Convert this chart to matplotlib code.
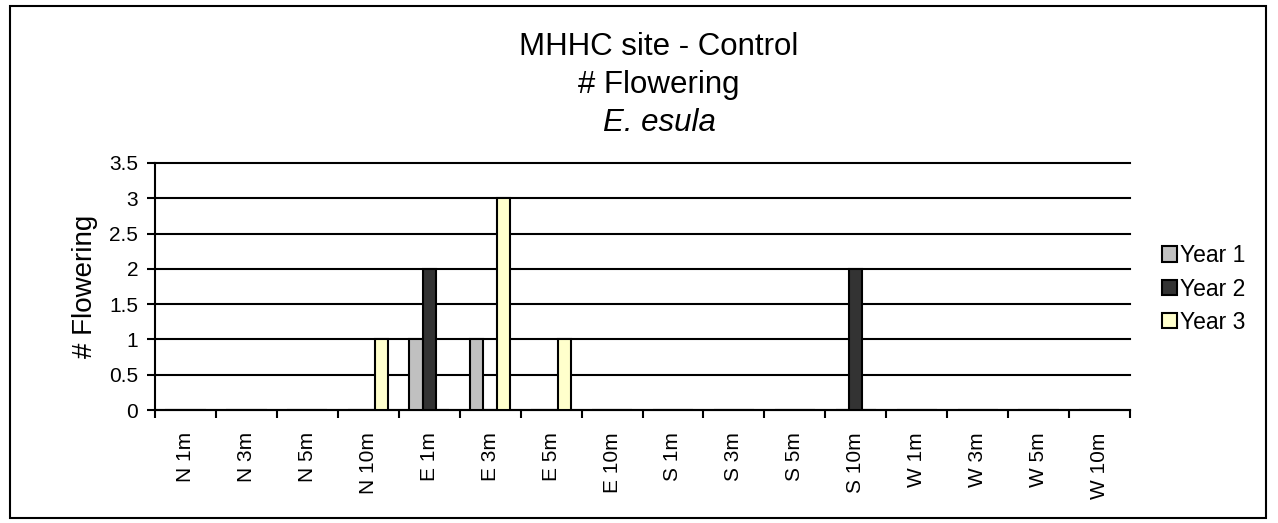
import matplotlib
matplotlib.use("Agg")
import matplotlib.pyplot as plt
import numpy as np
from matplotlib.patches import Rectangle

categories = ["N 1m", "N 3m", "N 5m", "N 10m", "E 1m", "E 3m", "E 5m", "E 10m",
              "S 1m", "S 3m", "S 5m", "S 10m", "W 1m", "W 3m", "W 5m", "W 10m"]
year1 = [0, 0, 0, 0, 1, 1, 0, 0, 0, 0, 0, 0, 0, 0, 0, 0]
year2 = [0, 0, 0, 0, 2, 0, 0, 0, 0, 0, 0, 2, 0, 0, 0, 0]
year3 = [0, 0, 0, 1, 0, 3, 1, 0, 0, 0, 0, 0, 0, 0, 0, 0]
series_names = ["Year 1", "Year 2", "Year 3"]
colors = ["#C0C0C0", "#333333", "#FFFFCC"]
yticks = [0, 0.5, 1, 1.5, 2, 2.5, 3, 3.5]

plt.rcParams['font.family'] = ['Liberation Sans', 'DejaVu Sans']

fig = plt.figure(figsize=(12.78, 5.23), dpi=100)
ax = fig.add_axes([155/1278, 1 - 410/523, (1130-155)/1278, (410-163)/523])

x = np.arange(len(categories))
w = 0.22
for i, (vals, c, n) in enumerate(zip([year1, year2, year3], colors, series_names)):
    ax.bar(x + (i - 1) * w, vals, width=w, color=c, edgecolor="black",
           linewidth=1.5, label=n, zorder=3)

ax.set_xlim(-0.5, len(categories) - 0.5)
ax.set_ylim(0, 3.5)
ax.set_yticks(yticks)
ax.set_yticklabels([f"{t:g}" for t in yticks], fontsize=15)
ax.yaxis.grid(True, color="black", linewidth=1.5, zorder=0)
ax.set_axisbelow(True)
for gl in ax.get_ygridlines():
    gl.set_clip_on(False)

ax.set_xticks(np.arange(-0.5, len(categories)), minor=False)
ax.set_xticklabels([])
ax.set_xticks(x, minor=True)
ax.set_xticklabels(categories, minor=True, rotation=90, fontsize=15)
ax.tick_params(axis="x", which="minor", length=0, pad=16)
ax.tick_params(axis="x", which="major", length=6, width=1.5, direction="out")
ax.tick_params(axis="y", length=6, width=1.5, direction="out", pad=6)

for s in ["top", "right"]:
    ax.spines[s].set_visible(False)
for s in ["left", "bottom"]:
    ax.spines[s].set_linewidth(1.5)

ax.set_ylabel("# Flowering", fontsize=20, labelpad=8)

tx = 659 / 1278
fig.text(tx, 1 - 55/523, "MHHC site - Control", ha="center", va="baseline", fontsize=22.5)
fig.text(tx, 1 - 93/523, "# Flowering", ha="center", va="baseline", fontsize=22.5)
fig.text(tx, 1 - 131/523, "E. esula", ha="center", va="baseline", fontsize=22.5, style="italic")

leg = fig.legend(loc="center left", bbox_to_anchor=(1162/1278, 1 - 289/523),
                 frameon=False, fontsize=16.5, handlelength=0.65, handleheight=0.65,
                 handletextpad=0.15, labelspacing=0.45, borderaxespad=0, borderpad=0)

fig.patches.append(Rectangle((10/1278, 5/523), 1256/1278, 512/523, transform=fig.transFigure,
                             fill=False, edgecolor="black", linewidth=1.5))

fig.savefig("out.png", dpi=100)
